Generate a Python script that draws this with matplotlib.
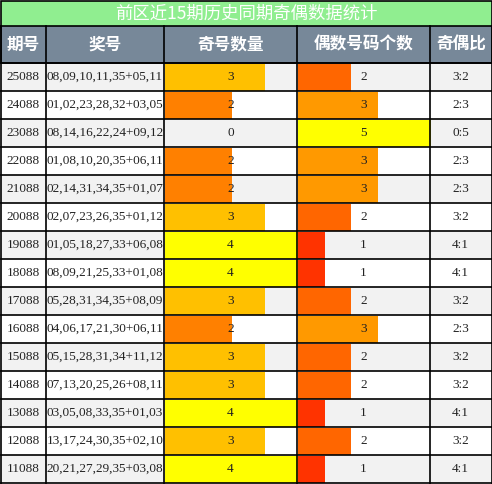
import matplotlib
matplotlib.use("Agg")
import matplotlib.pyplot as plt
from matplotlib.patches import Rectangle

title = "前区近15期历史同期奇偶数据统计"
headers = ["期号", "奖号", "奇号数量", "偶数号码个数", "奇偶比"]
periods = ["25088","24088","23088","22088","21088","20088","19088","18088","17088","16088","15088","14088","13088","12088","11088"]
numbers = ["08,09,10,11,35+05,11","01,02,23,28,32+03,05","08,14,16,22,24+09,12","01,08,10,20,35+06,11",
           "02,14,31,34,35+01,07","02,07,23,26,35+01,12","01,05,18,27,33+06,08","08,09,21,25,33+01,08",
           "05,28,31,34,35+08,09","04,06,17,21,30+06,11","05,15,28,31,34+11,12","07,13,20,25,26+08,11",
           "03,05,08,33,35+01,03","13,17,24,30,35+02,10","20,21,27,29,35+03,08"]
odd = [3,2,0,2,2,3,4,4,3,2,3,3,4,3,4]
even = [2,3,5,3,3,2,1,1,2,3,2,2,1,2,1]
ratio = [f"{o}:{e}" for o, e in zip(odd, even)]

odd_colors = {0: "none", 2: "#FF8000", 3: "#FFC000", 4: "#FFFF00"}
even_colors = {1: "#FF3300", 2: "#FF6600", 3: "#FF9900", 5: "#FFFF00"}

W, H = 492, 484
fig = plt.figure(figsize=(W/100, H/100), dpi=100)
ax = fig.add_axes([0, 0, 1, 1])
ax.set_xlim(0, W); ax.set_ylim(H, 0); ax.axis("off")

cols = [0.5, 46, 164, 297, 430, 491.5]
title_h, head_top, head_bot = 26, 26, 63
row_h = (H - 1 - head_bot) / len(periods)
cjk = ["Noto Sans CJK SC", "DejaVu Sans"]
serif = "Liberation Serif"

ax.add_patch(Rectangle((0.5, 0.5), W-1, title_h, facecolor="#90EE90", edgecolor="black", lw=1.2))
ax.text(W/2, title_h/2 + 1, title, ha="center", va="center", color="white", fontsize=12.5, family=cjk)
ax.add_patch(Rectangle((0.5, head_top), W-1, head_bot-head_top, facecolor="#778899", edgecolor="black", lw=1.2))
for i, h in enumerate(headers):
    ax.text((cols[i]+cols[i+1])/2, (head_top+head_bot)/2, h, ha="center", va="center",
            color="white", fontsize=12, fontweight="bold", family=cjk)

ys = [head_bot + (i + 0.5) * row_h for i in range(len(periods))]
for i, y in enumerate(ys):
    bg = "#F2F2F2" if i % 2 == 0 else "white"
    ax.add_patch(Rectangle((0.5, y - row_h/2), W-1, row_h, facecolor=bg, edgecolor="none", zorder=0))

c2w = cols[3] - cols[2]; c3w = cols[4] - cols[3]
mo, me = max(odd), max(even)
ax.barh(ys, [v/mo*c2w for v in odd], left=cols[2]+1, height=row_h-1,
        color=[odd_colors[v] if v else (0,0,0,0) for v in odd], zorder=1)
ax.barh(ys, [v/me*c3w for v in even], left=cols[3]+1, height=row_h-1,
        color=[even_colors[v] for v in even], zorder=1)

for i, y in enumerate(ys):
    vals = [periods[i], numbers[i], str(odd[i]), str(even[i]), ratio[i]]
    for j, v in enumerate(vals):
        ax.text((cols[j]+cols[j+1])/2, y, v, ha="center", va="center", fontsize=9.5,
                family=serif, color="#222222", zorder=3)

# grid lines
for x in cols:
    ax.plot([x, x], [head_top, H-0.5], color="black", lw=1.2, zorder=4)
for i in range(len(periods)+1):
    yy = head_bot + i*row_h
    ax.plot([0.5, W-0.5], [yy, yy], color="black", lw=1.2, zorder=4)

fig.savefig("out.png", dpi=100)
